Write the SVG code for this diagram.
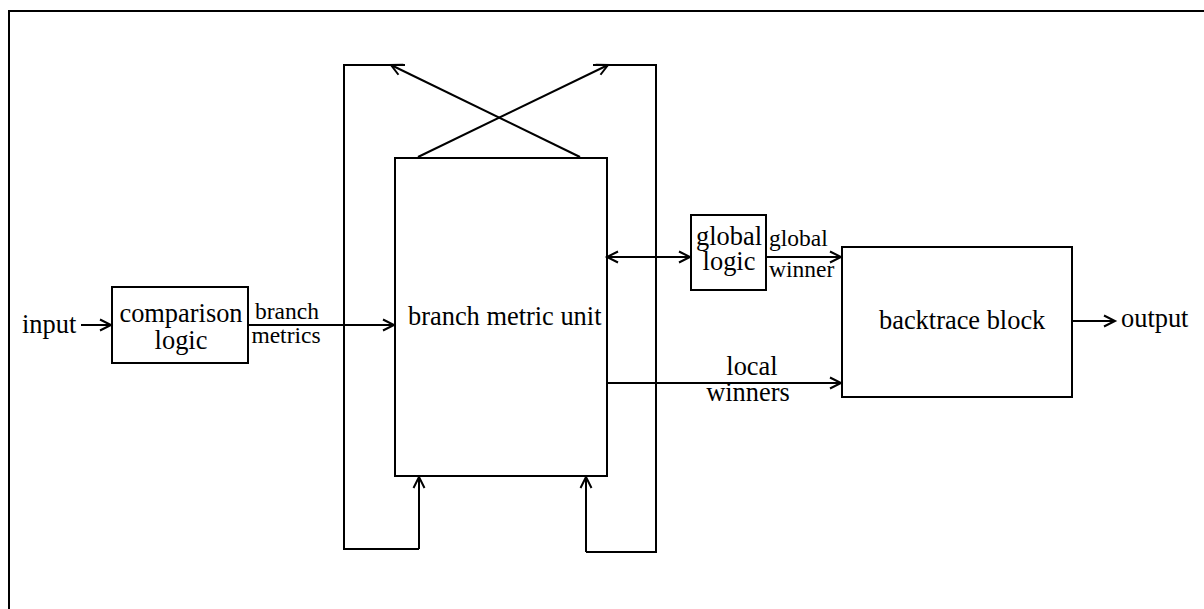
<svg xmlns="http://www.w3.org/2000/svg" width="1204" height="609" viewBox="0 0 1204 609">
<style>
.box{fill:none;stroke:#000;stroke-width:2}
.ln{fill:none;stroke:#000;stroke-width:2}
.arr{marker-end:url(#ah)}
text{font-family:"Liberation Serif","Times New Roman",serif;fill:#000}
.big{font-size:26.4px}
.sm{font-size:23.5px}
.c{text-anchor:middle}
</style>
<defs>
<marker id="ah" viewBox="0 0 12 12" refX="11" refY="6" markerWidth="12" markerHeight="12" markerUnits="userSpaceOnUse" orient="auto-start-reverse" overflow="visible">
<path d="M0,0.5 L11,6 L0,11.5" fill="none" stroke="#000" stroke-width="2"/>
</marker>
</defs>
<rect width="1204" height="609" fill="#fff"/>
<path class="ln" d="M9,615 V11 H1212"/>
<g id="comparison">
<rect class="box" x="112" y="287" width="136" height="76"/>
<text class="big c" x="181" y="322">comparison</text>
<text class="big c" x="181" y="349">logic</text>
</g>
<g id="bmu">
<rect class="box" x="395" y="158" width="212" height="318"/>
<text class="big" x="408" y="325">branch metric unit</text>
</g>
<g id="global">
<rect class="box" x="691" y="215" width="75" height="75"/>
<text class="big c" x="729" y="245">global</text>
<text class="big c" x="729" y="270">logic</text>
</g>
<g id="backtrace">
<rect class="box" x="842" y="247" width="230" height="150"/>
<text class="big" x="879" y="329">backtrace block</text>
</g>
<g id="connectors">
<path class="ln arr" d="M81,325 H111"/>
<path class="ln arr" d="M248,325 H394"/>
<path class="ln" d="M405,65 H344 V549 H419"/>
<path class="ln arr" d="M419,549 V477"/>
<path class="ln" d="M593,65 H656 V552 H586"/>
<path class="ln arr" d="M586,552 V477"/>
<path class="ln arr" d="M418,157 L608,65"/>
<path class="ln arr" d="M580,157 L391,65"/>
<path class="ln arr" style="marker-start:url(#ah)" d="M607,257 H690"/>
<path class="ln arr" d="M766,257 H841"/>
<path class="ln arr" d="M607,383 H841"/>
<path class="ln arr" d="M1072,321 H1115"/>
<text class="big" x="22" y="333">input</text>
<text class="sm c" x="287" y="319">branch</text>
<text class="sm c" x="286" y="343">metrics</text>
<text class="sm" x="769" y="246">global</text>
<text class="sm" x="769" y="277">winner</text>
<text class="big c" x="752" y="375">local</text>
<text class="big c" x="748" y="401">winners</text>
<text class="big" x="1121" y="327">output</text>
</g>
</svg>
